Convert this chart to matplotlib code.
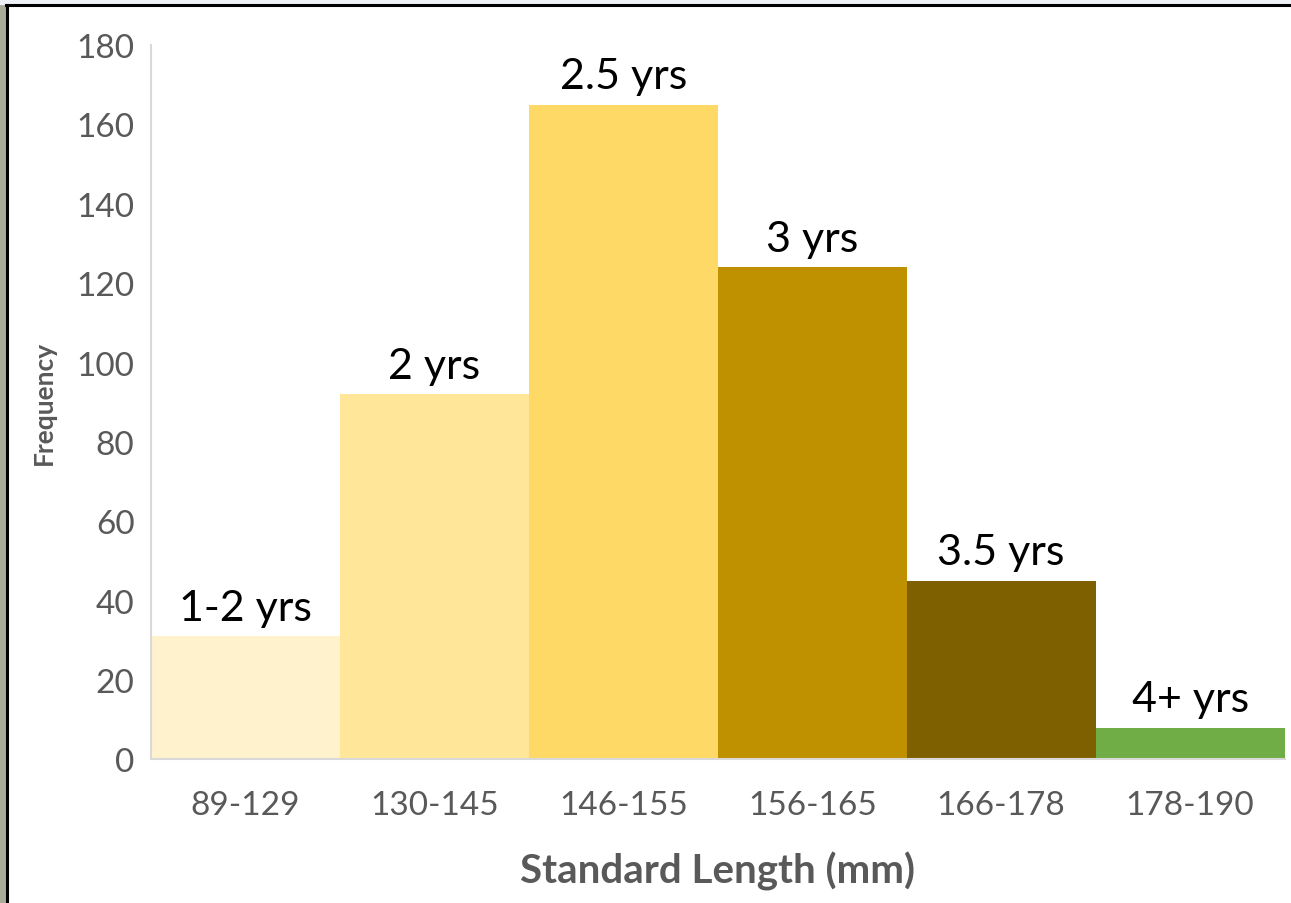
import matplotlib.pyplot as plt
import numpy as np
from matplotlib.patches import Rectangle

# length classes, counts and estimated ages
length_bins = ['89-129', '130-145', '146-155', '156-165', '166-178', '178-190']
frequency = [31, 92, 165, 124, 45, 8]
age_labels = ['1-2 yrs', '2 yrs', '2.5 yrs', '3 yrs', '3.5 yrs', '4+ yrs']
bar_colors = ['#FFF2CC', '#FFE699', '#FFD966', '#BF9000', '#7F6000', '#70AD47']

plt.rcParams['font.family'] = ['Lato', 'DejaVu Sans']

fig = plt.figure(figsize=(12.91, 9.04), dpi=100)

# slide background peeking out at the edges, plus the black frame
fig.patches.append(Rectangle((0, 0), 0.005, 1, transform=fig.transFigure,
                             color='#a9aa98', zorder=0))
fig.patches.append(Rectangle((0, 0.994), 1, 0.006, transform=fig.transFigure,
                             color='#eef2f6', zorder=0))
fig.add_artist(plt.Line2D([0.0055, 0.0055], [0, 0.9935], transform=fig.transFigure,
                          color='black', lw=2.2))
fig.add_artist(plt.Line2D([0.0045, 1], [0.9935, 0.9935], transform=fig.transFigure,
                          color='black', lw=2.2))

ax = fig.add_axes([0.117, 0.159, 0.878, 0.790])

x = np.arange(len(length_bins))
bars = ax.bar(x, frequency, width=1.0, color=bar_colors, zorder=2)

for rect, lab in zip(bars, age_labels):
    ax.annotate(lab, (rect.get_x() + rect.get_width() / 2, rect.get_height()),
                xytext=(0, 7), textcoords='offset points',
                ha='center', va='bottom', fontsize=31, color='black')

ax.set_xlim(-0.5, len(length_bins) - 0.5)
ax.set_ylim(0, 180)
ax.set_yticks(np.arange(0, 181, 20))
ax.set_xticks(x)
ax.set_xticklabels(length_bins)
ax.tick_params(axis='both', length=0, labelsize=24, colors='#595959')
ax.tick_params(axis='x', pad=22)
ax.tick_params(axis='y', pad=12)

for side in ['top', 'right']:
    ax.spines[side].set_visible(False)
for side in ['left', 'bottom']:
    ax.spines[side].set_color('#d9d9d9')
    ax.spines[side].set_linewidth(1.5)

ax.set_xlabel('Standard Length (mm)', fontsize=29, fontweight='bold',
              color='#595959', labelpad=22)
ax.set_ylabel('Frequency', fontsize=19, fontweight='bold',
              color='#595959', labelpad=15)

fig.savefig('out.png', dpi=100)
